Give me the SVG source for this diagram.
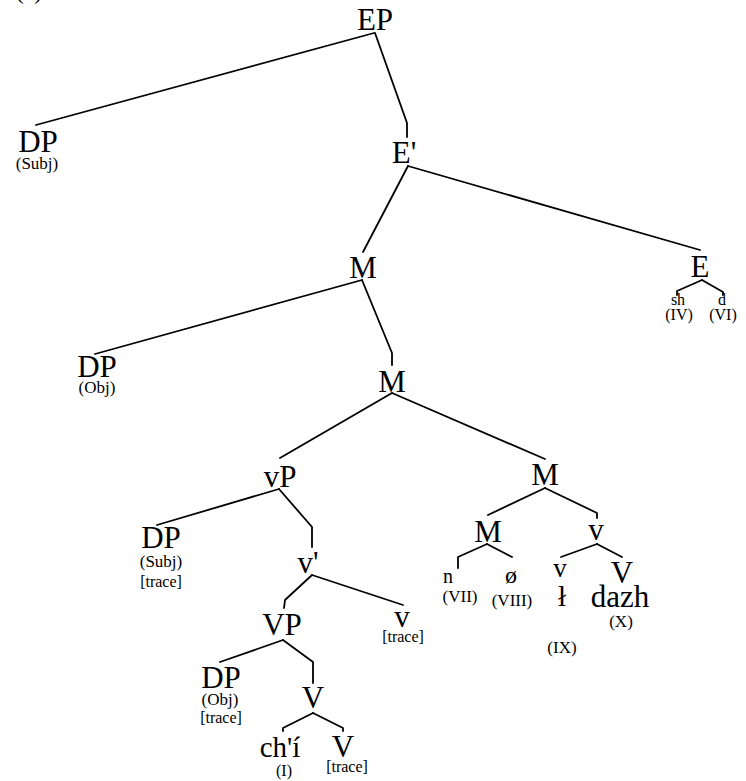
<svg xmlns="http://www.w3.org/2000/svg" width="746" height="781" viewBox="0 0 746 781">
<style>
  text { font-family: "Liberation Serif", "Times New Roman", serif; fill: #000; text-anchor: middle; }
  .big { font-size: 31px; }
  .mid { font-size: 29px; }
  .sm { font-size: 17px; }
  .xs { font-size: 16px; }
  .edge { fill: none; stroke: #000; stroke-width: 1.8; stroke-linejoin: round; stroke-linecap: round; }
</style>
<rect width="746" height="781" fill="#fff"/>
<text x="29" y="-1" style="font-size:24px">(a)</text>
<g id="connectors">
  <polyline class="edge" points="374,33 36,125"/>
  <polyline class="edge" points="375,33 407,123 407,137"/>
  <polyline class="edge" points="408,166 363,252"/>
  <polyline class="edge" points="408,166 700,250"/>
  <polyline class="edge" points="702,280 677,291 677,295"/>
  <polyline class="edge" points="702,280 723,292 723,295"/>
  <polyline class="edge" points="362,280 95,354"/>
  <polyline class="edge" points="362,280 392,353 392,365"/>
  <polyline class="edge" points="392,393 280,458"/>
  <polyline class="edge" points="392,393 545,459"/>
  <polyline class="edge" points="279,489 157,525"/>
  <polyline class="edge" points="279,489 312,527 312,547"/>
  <polyline class="edge" points="312,575 285,600 284,608"/>
  <polyline class="edge" points="312,575 403,605"/>
  <polyline class="edge" points="283,640 220,662"/>
  <polyline class="edge" points="283,640 313,662 313,683"/>
  <polyline class="edge" points="313,713 283,728 283,731"/>
  <polyline class="edge" points="313,713 343,728 343,731"/>
  <polyline class="edge" points="545,488 488,515"/>
  <polyline class="edge" points="545,488 597,513 597,518"/>
  <polyline class="edge" points="487,544 458,557 458,568"/>
  <polyline class="edge" points="487,544 512,557"/>
  <polyline class="edge" points="597,544 561,557"/>
  <polyline class="edge" points="597,544 622,557"/>
</g>
<g id="n-EP"><text class="big" x="375" y="30">EP</text></g>
<g id="n-DP-subj"><text class="big" x="38" y="152">DP</text><text class="sm" x="37" y="169">(Subj)</text></g>
<g id="n-Ebar"><text class="big" x="404" y="163">E'</text></g>
<g id="n-E"><text class="big" x="700" y="277">E</text></g>
<g id="n-sh"><text class="xs" x="678" y="305">sh</text><text class="xs" x="679" y="320">(IV)</text></g>
<g id="n-d"><text class="xs" x="722" y="305">d</text><text class="xs" x="723" y="320">(VI)</text></g>
<g id="n-M1"><text class="big" x="363" y="278">M</text></g>
<g id="n-DP-obj"><text class="big" x="97" y="377">DP</text><text class="sm" x="97" y="393">(Obj)</text></g>
<g id="n-M2"><text class="big" x="392" y="392">M</text></g>
<g id="n-vP"><text class="big" x="280" y="487">vP</text></g>
<g id="n-M3"><text class="big" x="545" y="485">M</text></g>
<g id="n-DP-subj-trace"><text class="big" x="161" y="548">DP</text><text class="sm" x="161" y="567">(Subj)</text><text class="xs" x="161" y="587">[trace]</text></g>
<g id="n-vbar"><text class="big" x="308" y="573">v'</text></g>
<g id="n-v-trace"><text class="big" x="402" y="627">v</text><text class="xs" x="403" y="642">[trace]</text></g>
<g id="n-VP"><text class="big" x="282" y="635">VP</text></g>
<g id="n-DP-obj-trace"><text class="big" x="221" y="688">DP</text><text class="sm" x="220" y="705">(Obj)</text><text class="xs" x="221" y="723">[trace]</text></g>
<g id="n-V1"><text class="big" x="313" y="708">V</text></g>
<g id="n-chi"><text class="mid" x="280" y="757">ch'í</text><text class="xs" x="284" y="776">(I)</text></g>
<g id="n-V-trace"><text class="big" x="343" y="757">V</text><text class="xs" x="347" y="772">[trace]</text></g>
<g id="n-M4"><text class="big" x="488" y="542">M</text></g>
<g id="n-n"><text style="font-size:20px" x="448" y="583">n</text><text class="sm" x="460" y="602">(VII)</text></g>
<g id="n-null"><text style="font-size:24px" x="511" y="583">ø</text><text class="sm" x="512" y="606">(VIII)</text></g>
<g id="n-v2"><text class="big" x="596" y="540">v</text></g>
<g id="n-v3"><text style="font-size:27px" x="560" y="577">v</text><text class="mid" x="562" y="606">ł</text><text class="sm" x="562" y="653">(IX)</text></g>
<g id="n-V2"><text class="big" x="622" y="583">V</text><text class="big" x="620" y="607">dazh</text><text class="sm" x="621" y="627">(X)</text></g>
</svg>
